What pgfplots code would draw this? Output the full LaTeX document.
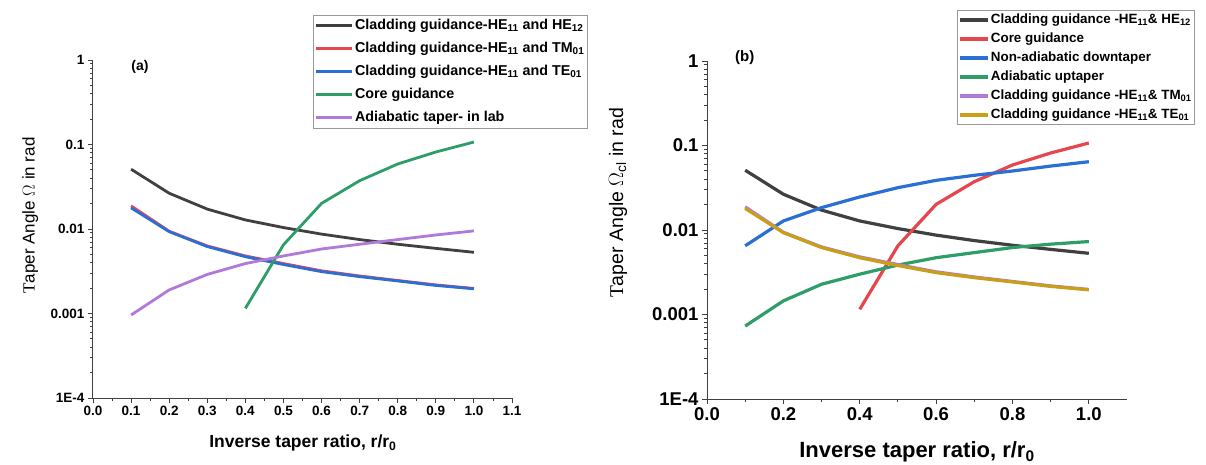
\documentclass[border=0pt]{standalone}
\usepackage{fontspec}
\setmainfont{Liberation Sans}
\newfontfamily\tnr{Liberation Serif}
\usepackage{pgfplots}
\pgfplotsset{compat=1.18}
\definecolor{cblack}{HTML}{404040}
\definecolor{cred}{HTML}{E6474E}
\definecolor{cblue}{HTML}{2A6FD3}
\definecolor{cgreen}{HTML}{2E9D67}
\definecolor{cpurple}{HTML}{B07AD9}
\definecolor{cgold}{HTML}{C9A015}
\begin{document}
\begin{tikzpicture}
\path[use as bounding box] (0,0) rectangle (1206pt,465pt);
% ---------------- (a) ----------------
\begin{axis}[
  scale only axis, ymode=log, ymin=1e-4, ymax=1, xmin=0, xmax=1.1,
  axis lines*=left, axis line style={-, line width=1pt, black!75},
  tick align=outside, major tick length=5pt, minor tick length=3pt,
  tick style={line width=0.9pt, black!75},
  ytick={1e-4,1e-3,1e-2,1e-1,1}, yticklabels={1E-4,0.001,0.01,0.1,1},
  /pgf/number format/assume math mode=true,
  every axis plot/.append style={line width=2.8pt},
  legend cell align=left, clip=false,
  at={(93pt,67pt)}, anchor=south west, width=419pt, height=338pt,
  xtick={0,0.1,0.2,0.3,0.4,0.5,0.6,0.7,0.8,0.9,1.0,1.1}, xticklabels={0.0,0.1,0.2,0.3,0.4,0.5,0.6,0.7,0.8,0.9,1.0,1.1},
  minor x tick num=1,
  tick label style={font=\fontsize{13.5}{15}\selectfont\bfseries},
  xlabel={Inverse taper ratio, r/r\textsubscript{0}},
  xlabel style={font=\fontsize{17.5}{19}\selectfont\bfseries, at={(axis description cs:0.501,-0.133)}, anchor=center},
  ylabel={{\tnr T}aper Angle $\Omega$ in rad},
  ylabel style={font=\fontsize{17}{19}\selectfont, at={(axis description cs:-0.150,0.54)}, anchor=center},
  legend style={at={(axis description cs:0.525,1.133)}, anchor=north west,
    draw=black!40, line width=0.6pt, font=\fontsize{14.3}{16}\selectfont\bfseries,
    inner sep=1.5pt, row sep=5.5pt,
    nodes={inner sep=1.5pt, text height=11pt, text depth=3.5pt}},
  legend image code/.code={\draw[#1] (0pt,0pt) -- (36pt,0pt);},
]
\addplot[cblack] coordinates {(0.1,0.051)(0.2,0.0265)(0.3,0.0172)(0.4,0.0128)(0.5,0.0104)(0.6,0.0087)(0.7,0.0075)(0.8,0.0066)(0.9,0.0059)(1.0,0.0053)};
\addlegendentry{Cladding guidance-HE\textsubscript{11} and HE\textsubscript{12}}
\addplot[cred] coordinates {(0.1,0.0188)(0.2,0.0094)(0.3,0.0063)(0.4,0.0048)(0.5,0.0039)(0.6,0.0032)(0.7,0.00278)(0.8,0.00246)(0.9,0.00218)(1.0,0.00198)};
\addlegendentry{Cladding guidance-HE\textsubscript{11} and TM\textsubscript{01}}
\addplot[cblue] coordinates {(0.1,0.0178)(0.2,0.0093)(0.3,0.0062)(0.4,0.0047)(0.5,0.0038)(0.6,0.00313)(0.7,0.00273)(0.8,0.00243)(0.9,0.00215)(1.0,0.00196)};
\addlegendentry{Cladding guidance-HE\textsubscript{11} and TE\textsubscript{01}}
\addplot[cgreen] coordinates {(0.4,0.00115)(0.5,0.0065)(0.6,0.0201)(0.7,0.0373)(0.8,0.0588)(0.9,0.0815)(1.0,0.107)};
\addlegendentry{Core guidance}
\addplot[cpurple] coordinates {(0.1,0.00096)(0.2,0.0019)(0.3,0.0029)(0.4,0.0039)(0.5,0.0048)(0.6,0.0058)(0.7,0.0066)(0.8,0.0075)(0.9,0.0085)(1.0,0.0095)};
\addlegendentry{Adiabatic taper- in lab}
\node[font=\fontsize{14}{16}\selectfont\bfseries] at (axis description cs:0.112,0.979) {(a)};
\end{axis}
% ---------------- (b) ----------------
\begin{axis}[
  scale only axis, ymode=log, ymin=1e-4, ymax=1, xmin=0, xmax=1.1,
  axis lines*=left, axis line style={-, line width=1pt, black!75},
  tick align=outside, major tick length=5pt, minor tick length=3pt,
  tick style={line width=0.9pt, black!75},
  ytick={1e-4,1e-3,1e-2,1e-1,1}, yticklabels={1E-4,0.001,0.01,0.1,1},
  /pgf/number format/assume math mode=true,
  every axis plot/.append style={line width=3.2pt},
  legend cell align=left, clip=false,
  at={(707pt,66pt)}, anchor=south west, width=420pt, height=338pt,
  xtick={0,0.2,0.4,0.6,0.8,1.0}, xticklabels={0.0,0.2,0.4,0.6,0.8,1.0},
  minor x tick num=1,
  tick label style={font=\fontsize{18.5}{20}\selectfont\bfseries},
  xlabel={Inverse taper ratio, r/r\textsubscript{0}},
  xlabel style={font=\fontsize{22}{24}\selectfont\bfseries, at={(axis description cs:0.5,-0.157)}, anchor=center},
  ylabel={{\tnr T}aper Angle $\Omega_{\mathrm{cl}}$ in rad},
  ylabel style={font=\fontsize{19.5}{21}\selectfont, at={(axis description cs:-0.212,0.58)}, anchor=center},
  legend style={at={(axis description cs:0.595,1.151)}, anchor=north west,
    draw=black!40, line width=0.6pt, font=\fontsize{13.4}{15}\selectfont\bfseries,
    inner sep=1pt, row sep=1.5pt,
    nodes={inner sep=1.5pt, text height=10.5pt, text depth=4pt}},
  legend image code/.code={\draw[#1] (0pt,0pt) -- (28pt,0pt);},
]
\addplot[cblack] coordinates {(0.1,0.051)(0.2,0.0265)(0.3,0.0172)(0.4,0.0128)(0.5,0.0104)(0.6,0.0087)(0.7,0.0075)(0.8,0.0066)(0.9,0.0059)(1.0,0.0053)};
\addlegendentry{Cladding guidance -HE\textsubscript{11}\& HE\textsubscript{12}}
\addplot[cred] coordinates {(0.4,0.00115)(0.5,0.0065)(0.6,0.0201)(0.7,0.0373)(0.8,0.0588)(0.9,0.0815)(1.0,0.107)};
\addlegendentry{Core guidance}
\addplot[cblue] coordinates {(0.1,0.0065)(0.2,0.0128)(0.3,0.0184)(0.4,0.0246)(0.5,0.0317)(0.6,0.0387)(0.7,0.0444)(0.8,0.0499)(0.9,0.0571)(1.0,0.0643)};
\addlegendentry{Non-adiabatic downtaper}
\addplot[cgreen] coordinates {(0.1,0.00073)(0.2,0.00145)(0.3,0.00228)(0.4,0.0030)(0.5,0.00385)(0.6,0.0047)(0.7,0.0054)(0.8,0.0062)(0.9,0.0068)(1.0,0.0073)};
\addlegendentry{Adiabatic uptaper}
\addplot[cpurple] coordinates {(0.1,0.0188)(0.2,0.0094)(0.3,0.0063)(0.4,0.0048)(0.5,0.0039)(0.6,0.0032)(0.7,0.00278)(0.8,0.00246)(0.9,0.00218)(1.0,0.00198)};
\addlegendentry{Cladding guidance -HE\textsubscript{11}\& TM\textsubscript{01}}
\addplot[cgold] coordinates {(0.1,0.0180)(0.2,0.0093)(0.3,0.0062)(0.4,0.0047)(0.5,0.0038)(0.6,0.00313)(0.7,0.00273)(0.8,0.00243)(0.9,0.00215)(1.0,0.00196)};
\addlegendentry{Cladding guidance -HE\textsubscript{11}\& TE\textsubscript{01}}
\node[font=\fontsize{15}{17}\selectfont\bfseries] at (axis description cs:0.09,1.009) {(b)};
\end{axis}
\end{tikzpicture}
\end{document}
